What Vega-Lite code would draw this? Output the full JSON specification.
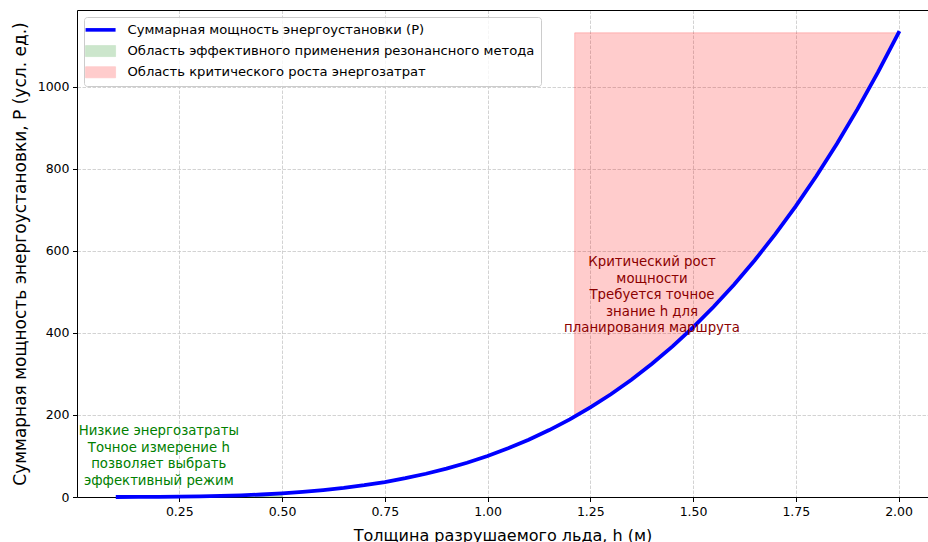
{
  "$schema": "https://vega.github.io/schema/vega-lite/v6.json",
  "width": 851,
  "height": 487,
  "autosize": {"type": "none"},
  "padding": {"left": 77, "top": 10, "right": 0, "bottom": 45},
  "background": "white",
  "resolve": {"axis": {"x": "independent", "y": "independent"}},
  "config": {
    "font": "DejaVu Sans",
    "view": {"stroke": null},
    "axis": {
      "domainColor": "#000000",
      "domainWidth": 1,
      "tickColor": "#000000",
      "tickSize": 4.5,
      "tickWidth": 1,
      "labelFontSize": 12.5,
      "labelColor": "#000000",
      "labelPadding": 3.5,
      "titleFontWeight": "normal",
      "titleColor": "#000000",
      "gridColor": "#c8c8c8",
      "gridDash": [3.5, 1.5],
      "gridWidth": 0.8
    }
  },
  "datasets": {
    "curve": [
      {"h": 0.1, "P": 0.03}, {"h": 0.15, "P": 0.13}, {"h": 0.2, "P": 0.36}, {"h": 0.25, "P": 0.78},
      {"h": 0.3, "P": 1.48}, {"h": 0.35, "P": 2.54}, {"h": 0.4, "P": 4.05}, {"h": 0.45, "P": 6.11},
      {"h": 0.5, "P": 8.84}, {"h": 0.55, "P": 12.34}, {"h": 0.6, "P": 16.73}, {"h": 0.65, "P": 22.14},
      {"h": 0.7, "P": 28.7}, {"h": 0.75, "P": 36.54}, {"h": 0.8, "P": 45.8}, {"h": 0.85, "P": 56.62},
      {"h": 0.9, "P": 69.16}, {"h": 0.95, "P": 83.57}, {"h": 1.0, "P": 100}, {"h": 1.05, "P": 118.62},
      {"h": 1.1, "P": 139.6}, {"h": 1.15, "P": 163.1}, {"h": 1.2, "P": 189.29}, {"h": 1.25, "P": 218.37},
      {"h": 1.3, "P": 250.5}, {"h": 1.35, "P": 285.87}, {"h": 1.4, "P": 324.68}, {"h": 1.45, "P": 367.1},
      {"h": 1.5, "P": 413.35}, {"h": 1.55, "P": 463.62}, {"h": 1.6, "P": 518.11}, {"h": 1.65, "P": 577.02},
      {"h": 1.7, "P": 640.58}, {"h": 1.75, "P": 708.96}, {"h": 1.8, "P": 782.44}, {"h": 1.85, "P": 861.2},
      {"h": 1.9, "P": 945.45}, {"h": 1.95, "P": 1035.43}, {"h": 2.0, "P": 1131.37}
    ],
    "eff": [
      {"h": 0.1, "base": 0, "P": 0.03}, {"h": 0.15, "base": 0, "P": 0.13}, {"h": 0.2, "base": 0, "P": 0.36},
      {"h": 0.25, "base": 0, "P": 0.78}, {"h": 0.3, "base": 0, "P": 1.48}, {"h": 0.35, "base": 0, "P": 2.54},
      {"h": 0.4, "base": 0, "P": 4.05}, {"h": 0.45, "base": 0, "P": 6.11}, {"h": 0.5, "base": 0, "P": 8.84}
    ],
    "crit": [
      {"h": 1.212, "P": 196.0, "top": 1131.37}, {"h": 1.25, "P": 218.37, "top": 1131.37},
      {"h": 1.3, "P": 250.5, "top": 1131.37}, {"h": 1.35, "P": 285.87, "top": 1131.37},
      {"h": 1.4, "P": 324.68, "top": 1131.37}, {"h": 1.45, "P": 367.1, "top": 1131.37},
      {"h": 1.5, "P": 413.35, "top": 1131.37}, {"h": 1.55, "P": 463.62, "top": 1131.37},
      {"h": 1.6, "P": 518.11, "top": 1131.37}, {"h": 1.65, "P": 577.02, "top": 1131.37},
      {"h": 1.7, "P": 640.58, "top": 1131.37}, {"h": 1.75, "P": 708.96, "top": 1131.37},
      {"h": 1.8, "P": 782.44, "top": 1131.37}, {"h": 1.85, "P": 861.2, "top": 1131.37},
      {"h": 1.9, "P": 945.45, "top": 1131.37}, {"h": 1.95, "P": 1035.43, "top": 1131.37},
      {"h": 2.0, "P": 1131.37, "top": 1131.37}
    ],
    "noteLow": [
      {"h": 0.2, "P": 160, "label": "Низкие энергозатраты\nТочное измерение h\nпозволяет выбрать\nэффективный режим"}
    ],
    "noteHigh": [
      {"h": 1.4, "P": 572, "label": "Критический рост\nмощности\nТребуется точное\nзнание h для\nпланирования маршрута"}
    ]
  },
  "layer": [
    {
      "data": {"name": "eff"},
      "mark": {"type": "area", "color": "green", "fillOpacity": 0.2, "stroke": "green", "strokeOpacity": 0.2, "strokeWidth": 1},
      "encoding": {
        "x": {"field": "h", "type": "quantitative", "scale": {"domain": [0.001, 2.0716], "nice": false, "zero": false},
              "axis": {"orient": "top", "labels": false, "ticks": false, "grid": false, "title": null, "domain": true}},
        "y": {"field": "base", "type": "quantitative",
              "scale": {"domain": [0, 1187], "nice": false, "zero": false},
              "axis": {"orient": "left", "title": "Суммарная мощность энергоустановки, P (усл. ед.)",
                       "values": [0, 200, 400, 600, 800, 1000], "format": "d",
                       "grid": true, "titleFontSize": 17, "titlePadding": 8}},
        "y2": {"field": "P"}
      }
    },
    {
      "data": {"name": "crit"},
      "mark": {"type": "area", "color": "red", "fillOpacity": 0.2, "stroke": "red", "strokeOpacity": 0.2, "strokeWidth": 1},
      "encoding": {
        "x": {"field": "h", "type": "quantitative", "axis": null},
        "y": {"field": "P", "type": "quantitative", "axis": null},
        "y2": {"field": "top"}
      }
    },
    {
      "data": {"name": "curve"},
      "mark": {"type": "line", "strokeWidth": 3.8, "strokeCap": "square"},
      "encoding": {
        "x": {"field": "h", "type": "quantitative",
              "axis": {"orient": "bottom", "title": "Толщина разрушаемого льда, h (м)",
                       "values": [0.25, 0.5, 0.75, 1.0, 1.25, 1.5, 1.75, 2.0], "format": ".2f",
                       "grid": true, "titleFontSize": 16, "titlePadding": 10}},
        "y": {"field": "P", "type": "quantitative", "axis": null},
        "color": {
          "datum": "Суммарная мощность энергоустановки (P)",
          "scale": {
            "domain": ["Суммарная мощность энергоустановки (P)", "Область эффективного применения резонансного метода", "Область критического роста энергозатрат"],
            "range": ["blue", "#cce6cc", "#ffcccc"]
          },
          "legend": {
            "title": null,
            "orient": "top-left",
            "offset": 7,
            "padding": 6.3,
            "rowPadding": 6.2,
            "labelFontSize": 13.15,
            "labelColor": "#000000",
            "labelLimit": 800,
            "labelOffset": 24,
            "symbolSize": 400,
            "strokeColor": "#cccccc",
            "fillColor": "rgba(255,255,255,0.8)",
            "cornerRadius": 3,
            "encode": {
              "symbols": {
                "update": {
                  "shape": {"signal": "datum.value === 'Суммарная мощность энергоустановки (P)' ? 'M-1.13,0H1.87' : 'M-1.13,-0.55H1.87V0.55H-1.13Z'"},
                  "fill": {"signal": "datum.value === 'Суммарная мощность энергоустановки (P)' ? 'transparent' : (datum.value === 'Область эффективного применения резонансного метода' ? '#cce6cc' : '#ffcccc')"},
                  "stroke": {"signal": "datum.value === 'Суммарная мощность энергоустановки (P)' ? 'blue' : (datum.value === 'Область эффективного применения резонансного метода' ? '#b8dcb8' : '#ffb8b8')"},
                  "strokeWidth": {"signal": "datum.value === 'Суммарная мощность энергоустановки (P)' ? 3.6 : 0.8"},
                  "opacity": {"value": 1}
                }
              }
            }
          }
        }
      }
    },
    {
      "data": {"name": "noteLow"},
      "mark": {"type": "text", "color": "#008000", "fontSize": 13.3, "align": "center", "baseline": "middle", "lineBreak": "\n", "lineHeight": 16.4},
      "encoding": {
        "x": {"field": "h", "type": "quantitative", "axis": null},
        "y": {"field": "P", "type": "quantitative", "axis": null},
        "text": {"field": "label"}
      }
    },
    {
      "data": {"name": "noteHigh"},
      "mark": {"type": "text", "color": "#8b0000", "fontSize": 13.3, "align": "center", "baseline": "middle", "lineBreak": "\n", "lineHeight": 16.4},
      "encoding": {
        "x": {"field": "h", "type": "quantitative", "axis": null},
        "y": {"field": "P", "type": "quantitative", "axis": null},
        "text": {"field": "label"}
      }
    }
  ]
}
